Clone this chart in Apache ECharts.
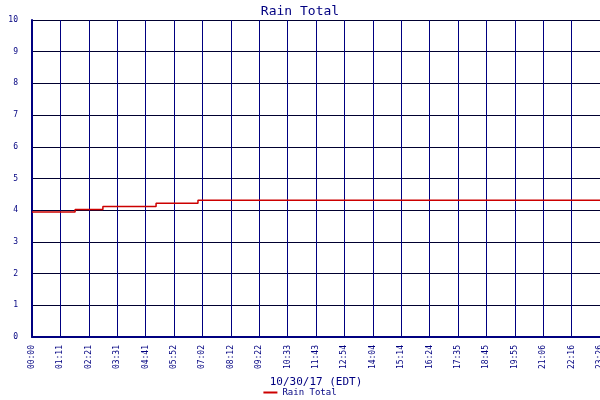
<!DOCTYPE html><html><head><meta charset="utf-8"><script src="https://cdn.jsdelivr.net/npm/echarts@6/dist/echarts.min.js"></script></head><body style="margin:0"><div id="c" style="width:600px;height:400px"></div><script>
var tickLabels=["00:00","01:11","02:21","03:31","04:41","05:52","07:02","08:12","09:22","10:33","11:43","12:54","14:04","15:14","16:24","17:35","18:45","19:55","21:06","22:16","23:26"];
var minutes=[0,107,176,308,412,1410];
var rain=[3.94,4.02,4.12,4.22,4.31,4.31];
var data=minutes.map(function(m,i){return [m,rain[i]];});
var f='"DejaVu Sans Mono", monospace';
var ch=echarts.init(document.getElementById('c'));
ch.setOption({animation:false,
title:{text:'Rain Total',left:'center',top:0,textStyle:{color:'#000080',fontFamily:f,fontSize:13,fontWeight:'normal'}},
grid:{left:32,right:0,top:20,bottom:63,containLabel:false,outerBoundsMode:'none'},
xAxis:{type:'value',min:0,max:1410,interval:70.5,name:'10/30/17 (EDT)',nameLocation:'middle',nameGap:38,nameTextStyle:{color:'#000080',fontFamily:f,fontSize:11},
axisLine:{lineStyle:{color:'#000080',width:2}},axisTick:{show:false},
splitLine:{show:true,lineStyle:{color:'#000080',width:1}},
axisLabel:{rotate:90,color:'#000080',fontFamily:f,fontSize:8,formatter:function(v){return tickLabels[Math.round(v/70.5)]||'';}}},
yAxis:{type:'value',min:0,max:10,interval:1,name:'Inches',nameLocation:'middle',nameGap:22,nameTextStyle:{color:'#000080',fontFamily:f,fontSize:11},
axisLine:{show:true,lineStyle:{color:'#000080',width:2}},axisTick:{show:false},
splitLine:{lineStyle:{color:'#000030',width:1}},
axisLabel:{color:'#000080',fontFamily:f,fontSize:8,margin:14}},
legend:{bottom:-2,left:'center',itemWidth:14,itemHeight:2,icon:'rect',textStyle:{color:'#000080',fontFamily:f,fontSize:9}},
series:[{name:'Rain Total',type:'line',step:'end',symbol:'none',data:data,lineStyle:{color:'#cc0000',width:1.5},itemStyle:{color:'#cc0000'}}]
});
</script></body></html>
